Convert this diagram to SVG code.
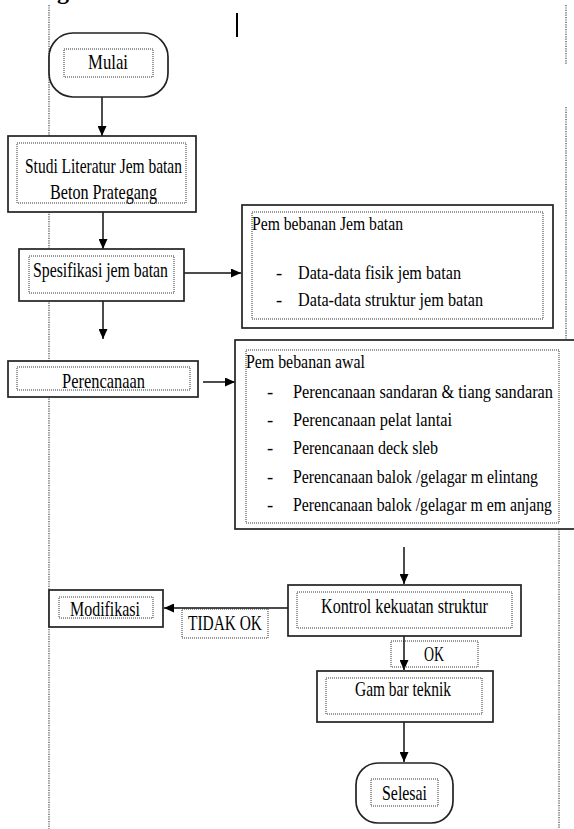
<svg xmlns="http://www.w3.org/2000/svg" width="574" height="829" viewBox="0 0 574 829">
<style>
.box{fill:#fff;stroke:#222;stroke-width:1.7}
.dot{fill:none;stroke:#333;stroke-width:1;stroke-dasharray:1 1}
.page{fill:none;stroke:#444;stroke-width:1.2;stroke-dasharray:1.2 1.2}
.t{font-family:"Liberation Serif","Times New Roman",serif;fill:#000;font-size:21px}
.s{font-size:18.5px}
.ln{fill:none;stroke:#111;stroke-width:1.5}
</style>
<defs>
<marker id="ah" markerUnits="userSpaceOnUse" markerWidth="10" markerHeight="9" refX="10" refY="4.5" orient="auto">
<path d="M0,0 L10,4.5 L0,9 z" fill="#000"/>
</marker>
</defs>
<rect width="574" height="829" fill="#fff"/>
<g id="page">
<text x="57" y="-1" font-family="Liberation Serif,serif" font-weight="bold" font-size="24">g</text>
<line x1="237" y1="13" x2="237" y2="37" stroke="#000" stroke-width="2"/>
<line class="page" x1="49" y1="5" x2="49" y2="829"/>
<line class="page" x1="566" y1="5" x2="566" y2="65"/>
<line class="page" x1="566" y1="107" x2="566" y2="340"/>
<line class="page" x1="559" y1="529" x2="559" y2="829"/>
</g>
<g id="connectors">
<path class="ln" d="M102,97 V136" marker-end="url(#ah)"/>
<path class="ln" d="M103,212 V249" marker-end="url(#ah)"/>
<path class="ln" d="M184,273 H241" marker-end="url(#ah)"/>
<path class="ln" d="M103,301 V339" marker-end="url(#ah)"/>
<path class="ln" d="M203,382 H235" marker-end="url(#ah)"/>
<path class="ln" d="M404,547 V584" marker-end="url(#ah)"/>
<path class="ln" d="M288,608 H164" marker-end="url(#ah)"/>
<path class="ln" d="M404,636 V670" marker-end="url(#ah)"/>
<path class="ln" d="M404,722 V762" marker-end="url(#ah)"/>
</g>
<g id="mulai">
<rect class="box" x="49" y="33" width="119" height="64" rx="24"/>
<rect class="dot" x="64" y="49" width="89" height="28"/>
<text class="t" x="88" y="69" textLength="40" lengthAdjust="spacingAndGlyphs">Mulai</text>
</g>
<g id="studi">
<rect class="box" x="8" y="136" width="188" height="76"/>
<rect class="dot" x="17" y="143" width="169" height="60"/>
<text class="t" x="25" y="173" textLength="157" lengthAdjust="spacingAndGlyphs">Studi Literatur Jem batan</text>
<text class="t" x="50" y="199" textLength="107" lengthAdjust="spacingAndGlyphs">Beton Prategang</text>
</g>
<g id="spesifikasi">
<rect class="box" x="19" y="249" width="165" height="52"/>
<rect class="dot" x="29" y="256" width="145" height="37"/>
<text class="t" x="33" y="277" textLength="135" lengthAdjust="spacingAndGlyphs">Spesifikasi jem batan</text>
</g>
<g id="pembebanan-jembatan">
<rect class="box" x="242" y="205" width="311" height="123"/>
<rect class="dot" x="252" y="212" width="291" height="107"/>
<text class="t s" x="252" y="230" textLength="151" lengthAdjust="spacingAndGlyphs">Pem bebanan Jem batan</text>
<text class="t s" x="276" y="279">-</text>
<text class="t s" x="298" y="279" textLength="163" lengthAdjust="spacingAndGlyphs">Data-data fisik jem batan</text>
<text class="t s" x="276" y="306">-</text>
<text class="t s" x="298" y="306" textLength="185" lengthAdjust="spacingAndGlyphs">Data-data struktur jem batan</text>
</g>
<g id="perencanaan">
<rect class="box" x="8" y="361" width="190" height="36"/>
<rect class="dot" x="17" y="367" width="173" height="23"/>
<text class="t" x="62" y="388" textLength="83" lengthAdjust="spacingAndGlyphs">Perencanaan</text>
</g>
<g id="pembebanan-awal">
<rect class="box" x="235" y="340" width="345" height="189"/>
<rect class="dot" x="246" y="350" width="313" height="173"/>
<text class="t s" x="246" y="368" textLength="119" lengthAdjust="spacingAndGlyphs">Pem bebanan awal</text>
<text class="t s" x="267" y="398">-</text>
<text class="t s" x="293" y="398" textLength="260" lengthAdjust="spacingAndGlyphs">Perencanaan sandaran &amp; tiang sandaran</text>
<text class="t s" x="267" y="426">-</text>
<text class="t s" x="293" y="426" textLength="159" lengthAdjust="spacingAndGlyphs">Perencanaan pelat lantai</text>
<text class="t s" x="267" y="454">-</text>
<text class="t s" x="293" y="454" textLength="145" lengthAdjust="spacingAndGlyphs">Perencanaan deck sleb</text>
<text class="t s" x="267" y="483">-</text>
<text class="t s" x="293" y="483" textLength="245" lengthAdjust="spacingAndGlyphs">Perencanaan balok /gelagar m elintang</text>
<text class="t s" x="267" y="511">-</text>
<text class="t s" x="293" y="511" textLength="259" lengthAdjust="spacingAndGlyphs">Perencanaan balok /gelagar m em anjang</text>
</g>
<g id="kontrol">
<rect class="box" x="288" y="585" width="233" height="51"/>
<rect class="dot" x="297" y="592" width="215" height="36"/>
<text class="t" x="321" y="613" textLength="167" lengthAdjust="spacingAndGlyphs">Kontrol kekuatan struktur</text>
</g>
<g id="modifikasi">
<rect class="box" x="49" y="590" width="114" height="37"/>
<rect class="dot" x="59" y="597" width="94" height="21"/>
<text class="t" x="70" y="616" textLength="70" lengthAdjust="spacingAndGlyphs">Modifikasi</text>
</g>
<g id="label-tidak-ok">
<rect class="dot" x="182" y="609" width="86" height="29" fill="#fff"/>
<text class="t" x="188" y="630" textLength="74" lengthAdjust="spacingAndGlyphs">TIDAK OK</text>
</g>
<g id="label-ok">
<rect class="dot" x="391" y="641" width="87" height="26"/>
<text class="t" x="424" y="661" textLength="20" lengthAdjust="spacingAndGlyphs">OK</text>
</g>
<g id="gambar">
<rect class="box" x="317" y="671" width="176" height="51"/>
<rect class="dot" x="326" y="678" width="156" height="36"/>
<text class="t" x="355" y="696" textLength="96" lengthAdjust="spacingAndGlyphs">Gam bar teknik</text>
</g>
<g id="selesai">
<rect class="box" x="356" y="763" width="97" height="60" rx="22"/>
<rect class="dot" x="371" y="779" width="67" height="27"/>
<text class="t" x="382" y="800" textLength="45" lengthAdjust="spacingAndGlyphs">Selesai</text>
</g>
</svg>
